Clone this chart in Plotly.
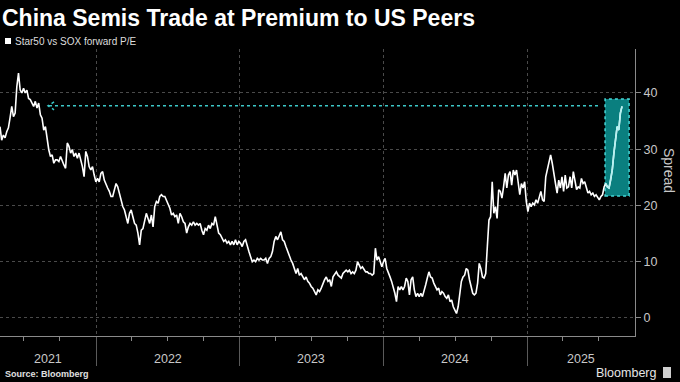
import plotly.graph_objects as go
import pandas as pd

TITLE = "China Semis Trade at Premium to US Peers"
SERIES_NAME = "Star50 vs SOX forward P/E"
Y_TITLE = "Spread"
SOURCE = "Source: Bloomberg"
BRAND = "Bloomberg"

# Spread values (segment 1: May 2021 -> Sep 2023)
values_a = [
    34.0, 31.6, 32.5, 32.0, 33.1, 33.8, 35.6, 37.6, 35.8, 36.4, 41.1, 43.5, 40.5, 40.0, 40.8, 40.0,
    40.5, 39.0, 38.8, 38.2, 37.6, 38.5, 37.3, 38.2, 36.1, 35.5, 33.4, 34.0, 31.6, 29.9, 28.7, 29.0,
    27.5, 28.1, 28.1, 27.8, 28.7, 27.8, 27.2, 26.6, 31.1, 30.5, 29.3, 29.9, 28.7, 29.3, 28.4, 29.3,
    28.1, 26.9, 25.1, 29.6, 28.7, 26.9, 26.3, 26.9, 25.4, 24.2, 24.8, 24.2, 25.7, 26.0, 24.5, 23.6,
    23.1, 22.5, 21.6, 21.6, 22.8, 23.9, 23.3, 22.2, 20.7, 19.8, 19.2, 18.0, 16.8, 18.6, 19.2, 18.0,
    16.8, 16.5, 15.1, 13.0, 15.6, 15.9, 17.4, 18.6, 17.7, 16.8, 18.3, 16.2, 19.8, 20.7, 20.4, 21.6,
    21.9, 21.6, 21.6, 21.0, 20.1, 19.5, 18.3, 18.6, 18.0, 18.3, 16.8, 18.6, 18.0, 17.1, 16.8, 15.1,
    16.2, 16.8, 16.5, 17.1, 16.5, 16.8, 16.5, 16.8, 15.6, 14.8, 15.9, 15.6, 16.5, 15.9, 16.8, 16.5,
    18.0, 16.2, 15.1, 14.8, 14.2, 13.6, 13.9, 13.3, 13.6, 13.0, 13.6, 13.0, 13.9, 13.0, 13.6, 13.3,
    12.7, 13.6, 13.9, 12.7, 11.8, 10.9, 10.0, 10.3, 10.0, 10.6, 10.3, 10.6, 10.3, 10.3, 10.6, 9.7,
    10.6, 10.9, 11.8, 13.6, 14.5, 13.9, 14.8, 15.3, 13.9, 13.6, 12.7, 11.8, 10.9, 10.3, 9.7, 8.8,
    7.9, 8.8, 7.6, 7.9, 7.3, 6.8, 7.3, 6.5, 6.2, 5.6, 5.3, 4.7, 4.1, 5.0, 4.7, 5.3,
    6.2, 6.8, 7.3, 6.5, 6.8, 5.6, 7.3, 7.9, 8.2, 7.6, 7.3,
]
# segment 2: Sep 2023 -> Aug 2025
values_b = [
    7.1, 7.9, 8.2, 8.5, 8.2, 8.5, 7.9, 8.2, 7.9, 8.5, 10.0, 9.4, 8.8, 9.1, 8.5, 8.2,
    8.2, 7.9, 7.9, 7.6, 7.9, 12.4, 10.3, 10.9, 10.0, 9.1, 10.0, 10.6, 8.8, 8.2, 7.3, 6.5,
    5.6, 4.4, 2.9, 5.6, 5.0, 5.6, 5.0, 5.6, 7.1, 6.5, 4.1, 6.8, 7.3, 5.0, 3.8, 4.4,
    3.8, 4.4, 3.8, 4.7, 5.9, 7.1, 8.2, 7.3, 7.1, 6.2, 5.6, 5.0, 5.3, 4.1, 4.7, 4.4,
    3.8, 3.5, 4.1, 2.9, 3.2, 2.0, 1.4, 0.8, 2.0, 4.4, 6.5, 7.3, 7.6, 8.8, 8.5, 6.8,
    5.6, 4.4, 4.1, 4.4, 6.2, 9.7, 8.8, 7.3, 7.1, 7.9, 12.7, 17.4, 18.0, 24.2, 18.6, 19.8,
    17.7, 22.8, 22.5, 21.3, 23.3, 25.7, 23.1, 25.4, 26.0, 23.6, 26.3, 25.4, 26.3, 23.9, 21.9, 23.9,
    23.1, 24.2, 20.7, 18.9, 20.4, 19.8, 20.4, 20.1, 21.0, 20.4, 21.3, 22.5, 21.0, 20.7, 25.1, 26.6,
    28.1, 29.0, 27.5, 25.4, 23.9, 22.2, 24.5, 23.1, 25.1, 22.5, 25.4, 23.1, 23.3, 25.1, 23.1, 26.0,
    24.2, 22.8, 23.3, 23.1, 24.8, 23.9, 24.2, 23.3, 22.2, 22.5, 21.9, 22.2, 21.6, 21.9, 21.3, 21.0,
    21.6, 21.9, 23.3, 23.9, 23.3, 23.1, 24.5, 26.3, 29.3, 31.6, 34.0, 33.4, 36.4, 37.6,
]
dates_a = pd.date_range("2021-05-02", "2023-09-12", periods=len(values_a))
dates_b = pd.date_range("2023-09-16", "2025-08-29", periods=len(values_b))
dates = list(dates_a) + list(dates_b)
values = values_a + values_b

X_RANGE = ["2021-05-02", "2025-10-01"]
Y_RANGE = [-3.2, 47.8]
Y_TICKS = [0, 10, 20, 30, 40]
YEAR_BOUNDS = ["2022-01-01", "2023-01-01", "2024-01-01", "2025-01-01"]
QUARTERS = ["2021-07-01", "2021-10-01", "2022-04-01", "2022-07-01", "2022-10-01",
            "2023-04-01", "2023-07-01", "2023-10-01", "2024-04-01", "2024-07-01",
            "2024-10-01", "2025-04-01", "2025-07-01"]
YEAR_LABELS = ["2021", "2022", "2023", "2024", "2025"]
YEAR_LABEL_POS = ["2021-09-01", "2022-07-02", "2023-07-02", "2024-07-01", "2025-05-17"]

BOX_X = ["2025-07-17", "2025-09-16"]
BOX_Y = [21.7, 38.9]
ARROW_FROM = "2025-06-29"
ARROW_TO = "2021-09-01"
ARROW_LEVEL = 37.7

TEAL = "#3cc8c8"
GRID = "#4a4a4a"
AXIS = "#8a8a8a"
TEXT = "#c8c8c8"

fig = go.Figure()
fig.add_trace(go.Scatter(x=dates, y=values, mode="lines", name=SERIES_NAME,
                         line=dict(color="white", width=1.6), showlegend=False))
box_start = pd.Timestamp(BOX_X[0])
in_box = [(d, v) for d, v in zip(dates, values) if d >= box_start]
fig.add_trace(go.Scatter(x=[d for d, _ in in_box], y=[v for _, v in in_box], mode="lines",
                         line=dict(color="#b4f2f2", width=1.6), showlegend=False))

shapes = [
    dict(type="rect", xref="x", yref="y", x0=BOX_X[0], x1=BOX_X[1], y0=BOX_Y[0], y1=BOX_Y[1],
         fillcolor="#0a7f7f", line=dict(color="#45d6d6", width=1.5, dash="dot"), layer="between"),
    dict(type="line", xref="x", yref="y", x0=ARROW_FROM, x1=ARROW_TO, y0=ARROW_LEVEL, y1=ARROW_LEVEL,
         line=dict(color=TEAL, width=1.5, dash="dot")),
    dict(type="path", xref="x", yref="y", xsizemode="pixel", ysizemode="pixel",
         xanchor=ARROW_TO, yanchor=ARROW_LEVEL, path="M 6,4 L 0,0 L 6,-4",
         line=dict(color=TEAL, width=1.5, dash="dot")),
    # legend square
    dict(type="rect", xref="paper", yref="paper", x0=5 / 635, x1=11 / 635,
         y0=(336 - 44) / 287, y1=(336 - 38) / 287, fillcolor="white", line=dict(width=0)),
    # brand icon
    dict(type="rect", xref="paper", yref="paper", x0=663 / 635, x1=671 / 635,
         y0=(336 - 378) / 287, y1=(336 - 367) / 287, fillcolor="#cfcfcf", line=dict(width=0)),
]

annotations = [
    dict(text=SERIES_NAME, xref="paper", yref="paper", x=13 / 635, y=(336 - 41) / 287,
         xanchor="left", yanchor="middle", showarrow=False,
         font=dict(family="Liberation Sans", size=10, color="#dddddd")),
    dict(text=Y_TITLE, xref="paper", yref="paper", x=669 / 635, y=(336 - 170) / 287,
         textangle=90, showarrow=False, xanchor="center", yanchor="middle",
         font=dict(family="Liberation Sans", size=14, color=TEXT)),
    dict(text="<b>" + SOURCE + "</b>", xref="paper", yref="paper", x=3 / 635, y=(336 - 374) / 287,
         xanchor="left", yanchor="middle", showarrow=False,
         font=dict(family="Liberation Sans", size=9, color="#e0e0e0")),
    dict(text=BRAND, xref="paper", yref="paper", x=658 / 635, y=(336 - 373) / 287,
         xanchor="right", yanchor="middle", showarrow=False,
         font=dict(family="Liberation Sans", size=12.5, color="#e6e6e6")),
]
for lab, pos in zip(YEAR_LABELS, YEAR_LABEL_POS):
    annotations.append(dict(text=lab, xref="x", yref="paper", x=pos, y=(336 - 359) / 287,
                            xanchor="center", yanchor="middle", showarrow=False,
                            font=dict(family="Liberation Sans", size=12.5, color=TEXT)))

fig.update_layout(
    width=680, height=382,
    margin=dict(l=0, r=45, t=49, b=46),
    paper_bgcolor="black", plot_bgcolor="black",
    title=dict(text="<b>" + TITLE + "</b>", x=2 / 680, xref="container", xanchor="left",
               y=1 - 18 / 382, yref="container", yanchor="middle",
               font=dict(family="Liberation Sans", size=23, color="white")),
    shapes=shapes, annotations=annotations,
    xaxis=dict(type="date", range=X_RANGE, tickmode="array", tickvals=YEAR_BOUNDS,
               showticklabels=False, ticks="outside", ticklen=29, tickcolor="#5a5a5a", tickwidth=1,
               showgrid=True, gridcolor=GRID, griddash="dot", gridwidth=1,
               showline=True, linecolor=AXIS, linewidth=1, zeroline=False,
               minor=dict(tickvals=QUARTERS, ticks="outside", ticklen=4, tickcolor=AXIS, showgrid=False)),
    yaxis=dict(side="right", range=Y_RANGE, tickmode="array", tickvals=Y_TICKS,
               ticks="outside", ticklen=5, tickcolor=AXIS, showline=True, linecolor=AXIS,
               showgrid=True, gridcolor=GRID, griddash="dot", zeroline=False,
               tickfont=dict(family="Liberation Sans", size=12.5, color=TEXT)),
    hovermode=False,
)

fig.write_html("out.html", config={"displayModeBar": False},
               post_script="document.body.style.margin='0px';document.body.style.padding='0px';")
